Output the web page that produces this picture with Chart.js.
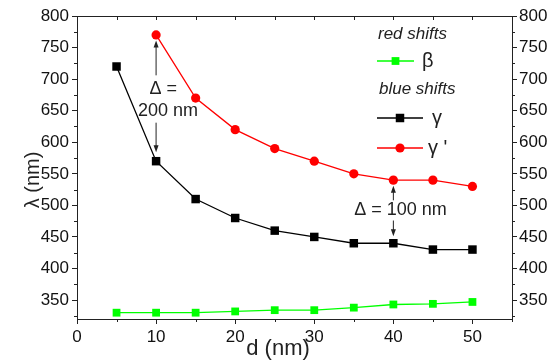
<!DOCTYPE html>
<html>
<head>
<meta charset="utf-8">
<script src="https://cdn.jsdelivr.net/npm/chart.js@4"></script>
<style>
  body { margin: 0; background: #fff; }
  #wrap { width: 549px; height: 362px; }
</style>
</head>
<body>
<div id="wrap"><canvas id="c"></canvas></div>
<script>
// значения
const dValues = [5, 10, 15, 20, 25, 30, 35, 40, 45, 50];
const betaRed = [330, 330, 330, 332, 334, 334, 338, 343, 344, 347];
const gammaBlue = [720, 570, 510, 480, 460, 450, 440, 440, 430, 430];
const dPrime = [10, 15, 20, 25, 30, 35, 40, 45, 50];
const gammaPrime = [770, 670, 620, 590, 570, 550, 540, 540, 530];
const xTicks = [0, 10, 20, 30, 40, 50];
const xTopTicks = [0, 5, 10, 15, 20, 25, 30, 35, 40, 45, 50, 55];
const yTicks = [350, 400, 450, 500, 550, 600, 650, 700, 750, 800];
const yMinorTicks = [325, 375, 425, 475, 525, 575, 625, 675, 725, 775];
const xMinorTicks = [5, 15, 25, 35, 45, 55];

const FONT = "'Liberation Sans', Arial, sans-serif";
const toXY = (xs, ys) => xs.map((x, i) => ({ x: x, y: ys[i] }));
const setTicks = vals => s => { s.ticks = vals.map(v => ({ value: v })); };

function arrow(ctx, x, y1, y2) {
    // стрелка от y1 к y2 (y2 — острие)
    const dir = y2 > y1 ? 1 : -1;
    ctx.beginPath();
    ctx.moveTo(x, y1);
    ctx.lineTo(x, y2 - dir * 5);
    ctx.stroke();
    ctx.beginPath();
    ctx.moveTo(x, y2);
    ctx.lineTo(x - 2.5, y2 - dir * 7);
    ctx.lineTo(x + 2.5, y2 - dir * 7);
    ctx.closePath();
    ctx.fill();
}

const extras = {
    id: 'extras',
    afterDraw(chart) {
        const ctx = chart.ctx;
        const sx = chart.scales.x, sy = chart.scales.y;
        const area = chart.chartArea;
        ctx.save();
        ctx.strokeStyle = '#222';
        ctx.fillStyle = '#222';
        ctx.lineWidth = 1;

        // малые засечки + засечки сверху внутрь
        ctx.beginPath();
        yMinorTicks.forEach(v => {
            const py = Math.round(sy.getPixelForValue(v)) + 0.5;
            ctx.moveTo(area.left - 3, py); ctx.lineTo(area.left, py);
            ctx.moveTo(area.right, py); ctx.lineTo(area.right + 3, py);
        });
        xMinorTicks.forEach(v => {
            const px = Math.round(sx.getPixelForValue(v)) + 0.5;
            ctx.moveTo(px, area.bottom); ctx.lineTo(px, area.bottom + 3);
        });
        xTopTicks.forEach(v => {
            const px = Math.round(sx.getPixelForValue(v)) + 0.5;
            ctx.moveTo(px, area.top); ctx.lineTo(px, area.top + 4);
        });
        ctx.stroke();

        // Δ-стрелки
        const ax1 = sx.getPixelForValue(10);
        arrow(ctx, ax1, sy.getPixelForValue(706), sy.getPixelForValue(761));
        arrow(ctx, ax1, sy.getPixelForValue(631), sy.getPixelForValue(584));
        const ax2 = sx.getPixelForValue(40);
        arrow(ctx, ax2, sy.getPixelForValue(508), sy.getPixelForValue(531));
        arrow(ctx, ax2, sy.getPixelForValue(476), sy.getPixelForValue(451));

        ctx.textBaseline = 'middle';
        ctx.textAlign = 'center';
        ctx.font = '18px ' + FONT;
        ctx.fillText('\u0394 =', sx.getPixelForValue(10.9), sy.getPixelForValue(684));
        ctx.fillText('200 nm', sx.getPixelForValue(11.5), sy.getPixelForValue(650));
        ctx.fillText('\u0394 = 100 nm', sx.getPixelForValue(40.9), sy.getPixelForValue(492));

        // подписи осей
        ctx.font = '22px ' + FONT;
        ctx.fillText('d (nm)', 278, 349);
        ctx.save();
        ctx.translate(33, 180);
        ctx.rotate(-Math.PI / 2);
        ctx.font = '20px ' + FONT;
        ctx.fillText('\u03bb (nm)', 0, 0);
        ctx.restore();

        // легенда
        ctx.textAlign = 'left';
        ctx.font = 'italic 17px ' + FONT;
        ctx.fillText('red shifts', 378, 34);
        ctx.fillText('blue shifts', 379, 89);
        const items = [
            { y: 61, x1: 377, x2: 414, label: '\u03b2', lx: 422, ds: 0 },
            { y: 118, x1: 377, x2: 423, label: '\u03b3', lx: 432, ds: 1 },
            { y: 148, x1: 377, x2: 423, label: '\u03b3 \'', lx: 428, ds: 2 }
        ];
        items.forEach(it => {
            const ds = chart.data.datasets[it.ds];
            ctx.strokeStyle = ds.borderColor;
            ctx.fillStyle = ds.backgroundColor;
            ctx.lineWidth = 1.3;
            ctx.beginPath();
            ctx.moveTo(it.x1, it.y); ctx.lineTo(it.x2, it.y);
            ctx.stroke();
            const mx = (it.x1 + it.x2) / 2;
            if (ds.pointStyle === 'circle') {
                ctx.beginPath();
                ctx.arc(mx, it.y, ds.pointRadius, 0, Math.PI * 2);
                ctx.fill();
            } else {
                const h = Math.SQRT1_2 * ds.pointRadius;
                ctx.fillRect(mx - h, it.y - h, 2 * h, 2 * h);
            }
            ctx.fillStyle = '#222';
            ctx.font = '20px ' + FONT;
            ctx.fillText(it.label, it.lx, it.y);
        });
        ctx.restore();
    }
};

const tickFont = { family: FONT, size: 17 };

new Chart(document.getElementById('c'), {
    type: 'line',
    data: {
        datasets: [
            {
                label: '\u03b2',
                data: toXY(dValues, betaRed),
                borderColor: '#00ff00',
                backgroundColor: '#00ff00',
                borderWidth: 1.3,
                pointStyle: 'rect',
                pointRadius: 5.5,
                pointBorderWidth: 0
            },
            {
                label: '\u03b3',
                data: toXY(dValues, gammaBlue),
                borderColor: '#000000',
                backgroundColor: '#000000',
                borderWidth: 1.3,
                pointStyle: 'rect',
                pointRadius: 6,
                pointBorderWidth: 0
            },
            {
                label: '\u03b3 \'',
                data: toXY(dPrime, gammaPrime),
                borderColor: '#ff0000',
                backgroundColor: '#ff0000',
                borderWidth: 1.3,
                pointStyle: 'circle',
                pointRadius: 4.6,
                pointBorderWidth: 0
            }
        ]
    },
    options: {
        responsive: true,
        maintainAspectRatio: false,
        animation: false,
        layout: { padding: 0 },
        plugins: { legend: { display: false }, tooltip: { enabled: false } },
        scales: {
            x: {
                type: 'linear', position: 'bottom',
                min: 0, max: 55, bounds: 'data',
                afterBuildTicks: setTicks(xTicks),
                ticks: { color: '#111', font: tickFont, padding: 3, maxRotation: 0, autoSkip: false },
                grid: { drawOnChartArea: false, tickLength: 5, tickColor: '#222' },
                border: { color: '#222', width: 1 },
                afterFit: s => { s.height = 43; }
            },
            xTop: {
                type: 'linear', position: 'top',
                min: 0, max: 55, bounds: 'data',
                afterBuildTicks: setTicks(xTopTicks),
                ticks: { display: false, autoSkip: false },
                grid: { drawOnChartArea: false, drawTicks: false },
                border: { color: '#222', width: 1 },
                afterFit: s => { s.height = 16; }
            },
            y: {
                type: 'linear', position: 'left',
                min: 320, max: 800, bounds: 'data',
                afterBuildTicks: setTicks(yTicks),
                ticks: { color: '#111', font: tickFont, padding: 3, autoSkip: false },
                grid: { drawOnChartArea: false, tickLength: 5, tickColor: '#222' },
                border: { color: '#222', width: 1 },
                afterFit: s => { s.width = 77; }
            },
            y2: {
                type: 'linear', position: 'right',
                min: 320, max: 800, bounds: 'data',
                afterBuildTicks: setTicks(yTicks),
                ticks: { color: '#111', font: tickFont, padding: 2, autoSkip: false },
                grid: { drawOnChartArea: false, tickLength: 5, tickColor: '#222' },
                border: { color: '#222', width: 1 },
                afterFit: s => { s.width = 37; }
            }
        }
    },
    plugins: [extras]
});
</script>
</body>
</html>
